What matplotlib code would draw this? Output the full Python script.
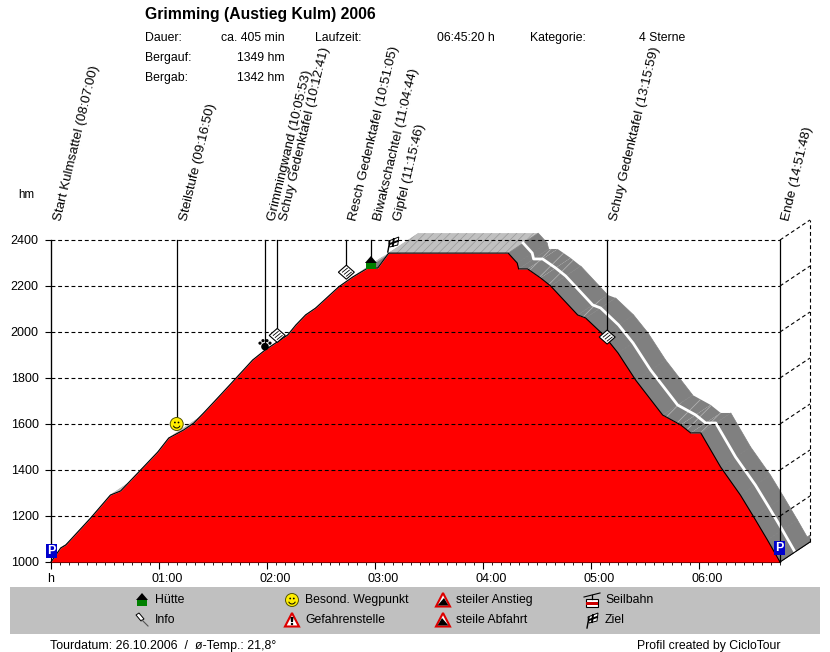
import matplotlib
matplotlib.use('Agg')
import matplotlib.pyplot as plt
from matplotlib.patches import Polygon, Circle, Rectangle, Wedge
from matplotlib.lines import Line2D
from matplotlib.transforms import IdentityTransform, ScaledTranslation

plt.rcParams['font.family'] = ['Liberation Sans', 'DejaVu Sans']
plt.rcParams['hatch.linewidth'] = 0.5

W, H = 830, 652

# profile: minutes since start / altitude in hm
minutes = [0, 5.4, 8.2, 22, 33, 38.7, 49.8, 59.3, 65.4, 73.7, 79.3, 84.8, 91.5, 99.8, 112, 119,
           131.5, 136, 141.4, 147, 159.8, 167.6, 176, 181.5, 187.6, 254, 259, 259.8, 264.8,
           272, 277.6, 292.6, 297, 307, 315, 324.8, 339.8, 349.8, 355.4, 361, 372, 383, 390.4,
           398, 405]
altitude = [1000, 1061, 1074, 1191, 1291, 1309, 1400, 1478, 1539, 1574, 1604, 1648, 1704, 1774,
            1878, 1922, 1987, 2030, 2074, 2104, 2196, 2239, 2278, 2278, 2343, 2343, 2300,
            2274, 2274, 2235, 2200, 2074, 2061, 1987, 1909, 1791, 1639, 1596, 1561, 1561,
            1413, 1291, 1196, 1096, 1000]

start_clock = '08:07:00'
wp_names = ['Start Kulmsattel', 'Steilstufe', 'Grimmingwand', 'Schuy Gedenktafel',
            'Resch Gedenktafel', 'Biwakschachtel', 'Gipfel', 'Schuy Gedenktafel', 'Ende']
wp_clock = ['08:07:00', '09:16:50', '10:05:53', '10:12:41', '10:51:05', '11:04:44',
            '11:15:46', '13:15:59', '14:51:48']
wp_alt = [1050, 1600, 1945, 1985, 2260, 2300, 2345, 1978, 1060]
wp_icon = ['park', 'smile', 'paw', 'info', 'info', 'hut', 'flag', 'info', 'park']

y_ticks = [1000, 1200, 1400, 1600, 1800, 2000, 2200, 2400]
x_hours = [1, 2, 3, 4, 5, 6]

info_left = [('Dauer:', 'ca. 405 min'), ('Bergauf:', '1349 hm'), ('Bergab:', '1342 hm')]
legend_items = [('hut', 'Hütte', 142, 600), ('pin', 'Info', 142, 620),
                ('smile', 'Besond. Wegpunkt', 292, 600), ('danger', 'Gefahrenstelle', 292, 620),
                ('up', 'steiler Anstieg', 443, 600), ('down', 'steile Abfahrt', 443, 620),
                ('cable', 'Seilbahn', 592, 600), ('flag', 'Ziel', 592, 620)]


def to_min(clock):
    a, b, c = clock.split(':')
    return int(a) * 60 + int(b) + int(c) / 60


fig = plt.figure(figsize=(W / 100, H / 100), dpi=100, facecolor='white')
ax = fig.add_axes([51 / W, (H - 562) / H, 729 / W, 322 / H])
ax.set_xlim(0, 405)
ax.set_ylim(1000, 2400)
ax.patch.set_visible(False)
for s in ['top', 'right']:
    ax.spines[s].set_visible(False)

# depth of the 3d band, 30 px right / 20 px up
dx = 30 / 1.8
dy = 20 / 0.23

for i in range(len(minutes) - 1):
    t0, t1 = minutes[i], minutes[i + 1]
    h0, h1 = altitude[i], altitude[i + 1]
    slope = (h1 - h0) / (t1 - t0)
    quad = [(t0, h0), (t1, h1), (t1 + dx, h1 + dy), (t0 + dx, h0 + dy)]
    if slope > 0.5:
        ax.add_patch(Polygon(quad, fc='#c0c0c0', ec='#c0c0c0', lw=0.5, clip_on=False, zorder=1))
    elif slope > -0.5 and t1 - t0 > 20:
        ax.add_patch(Polygon(quad, fc='#c0c0c0', ec='#999999', lw=0, hatch='////', clip_on=False, zorder=1))
    elif slope > -7:
        ax.add_patch(Polygon(quad, fc='#808080', ec='#b8b8b8', lw=0, hatch='//', clip_on=False, zorder=1))
    else:
        ax.add_patch(Polygon(quad, fc='#808080', ec='#808080', lw=0.5, clip_on=False, zorder=1))

# end wall of the band
ax.add_patch(Polygon([(405, 1000), (405 + dx, 1000 + dy), (405 + dx, 1030 + dy), (405, 1030)],
                     fc='#808080', ec='#808080', lw=0.5, clip_on=False, zorder=1))

# white track in the middle of the band, downhill part only
top_end = minutes.index(254)
ax.plot([m + dx / 2 for m in minutes[top_end:]], [a + dy / 2 for a in altitude[top_end:]],
        color='white', lw=2, clip_on=False, zorder=2)

ax.fill_between(minutes, altitude, 1000, color='#ff0000', lw=0, zorder=3)
ax.plot(minutes, altitude, color='black', lw=0.8, zorder=4, clip_on=False)

# grid and the dashed back wall
dash = (0, (3.5, 2.5))
for y in y_ticks[1:]:
    ax.plot([0, 405], [y, y], color='black', lw=0.8, ls=dash, zorder=5, clip_on=False)
for y in y_ticks[1:]:
    ax.plot([405, 405 + dx], [y, y + dy], color='black', lw=0.8, ls=dash, zorder=5, clip_on=False)
ax.plot([405 + dx, 405 + dx], [1000 + dy, 2400 + dy], color='black', lw=0.8, ls=dash, zorder=5, clip_on=False)
ax.plot([405, 405 + dx], [1000, 1000 + dy], color='black', lw=0.8, zorder=6, clip_on=False)

ax.set_yticks(y_ticks)
ax.tick_params(axis='y', length=4.3, width=0.8, pad=4.5, labelsize=9)
ax.set_xticks([0] + [h * 60 for h in x_hours])
ax.set_xticklabels(['h'] + ['%02d:00' % h for h in x_hours], fontsize=9)
ax.set_xticks(range(0, 406, 5), minor=True)
ax.tick_params(axis='x', which='major', length=5, width=0.8, pad=3)
ax.tick_params(axis='x', which='minor', length=2, width=0.6)
shift = ScaledTranslation(8 / 100, 0, fig.dpi_scale_trans)
for lab in ax.get_xticklabels()[1:]:
    lab.set_transform(lab.get_transform() + shift)


def dpoly(points, fc, ec='none', lw=0.0, z=20):
    fig.add_artist(Polygon(points, closed=True, fc=fc, ec=ec, lw=lw, transform=IdentityTransform(), zorder=z))


def dcirc(x, y, r, fc, ec='none', lw=0.0, z=20):
    fig.add_artist(Circle((x, y), r, fc=fc, ec=ec, lw=lw, transform=IdentityTransform(), zorder=z))


def dline(xs, ys, lw=0.8, color='black', z=21):
    fig.add_artist(Line2D(xs, ys, color=color, lw=lw, transform=IdentityTransform(), zorder=z))


def draw_icon(kind, x, y):
    # x, y are pixels with y going up, icon centred on them
    if kind == 'hut':
        dpoly([(x - 6, y), (x, y + 7), (x + 6, y)], 'black')
        fig.add_artist(Rectangle((x - 5, y - 6), 10, 6, fc='#008000', transform=IdentityTransform(), zorder=20))
    elif kind == 'smile':
        dcirc(x, y, 6.5, '#ffee00', '#555500', 0.7)
        dcirc(x - 1.8, y + 1.5, 0.9, 'black')
        dcirc(x + 1.8, y + 1.5, 0.9, 'black')
        fig.add_artist(Wedge((x, y - 0.5), 4, 200, 340, width=1, fc='black', transform=IdentityTransform(), zorder=21))
    elif kind == 'paw':
        dcirc(x, y - 2, 3.8, 'black')
        for ox, oy in [(-5, 1.5), (-2, 4), (2, 4), (5, 1.5)]:
            dcirc(x + ox, y + oy, 1.6, 'black')
    elif kind == 'info':
        dpoly([(x - 8, y), (x, y + 7), (x + 8, y), (x, y - 7)], 'white', 'black', 0.8)
        dline([x - 4, x + 1], [y, y + 4], 0.6)
        dline([x - 2, x + 3], [y - 2, y + 2], 0.6)
        dline([x, x + 5], [y - 4, y], 0.6)
    elif kind == 'pin':
        dpoly([(x - 6, y + 5), (x - 3, y + 7), (x + 2, y + 1), (x - 1, y - 1)], 'white', 'black', 0.7)
        dline([x, x + 6], [y, y - 6], 0.8, '#555555')
    elif kind == 'flag':
        dline([x - 5, x - 3], [y - 8, y + 3], 1.0)
        dpoly([(x - 4, y + 3), (x + 6, y + 7), (x + 5, y - 1), (x - 3, y - 3)], 'white', 'black', 0.7)
        dline([x - 3, x + 5], [y, y + 3], 1.4)
        dline([x, x + 1], [y - 2, y + 5], 1.4)
    elif kind == 'park':
        fig.add_artist(Rectangle((x - 5.5, y - 7), 11, 14, fc='#0000cc', transform=IdentityTransform(), zorder=20))
        fig.text(x, y, 'P', color='white', fontsize=9, fontweight='bold', ha='center', va='center',
                 transform=IdentityTransform(), zorder=22)
    elif kind in ('danger', 'up', 'down'):
        dpoly([(x - 7, y - 6.5), (x, y + 7), (x + 7, y - 6.5)], 'white', '#dd0000', 1.5)
        if kind == 'danger':
            dpoly([(x - 1.5, y + 3), (x + 1.5, y + 3), (x + 1, y - 2), (x - 1, y - 2)], 'black')
            dcirc(x, y - 4, 1.2, 'black')
        elif kind == 'up':
            dpoly([(x - 5.5, y - 5.5), (x + 1, y + 2), (x + 5.5, y - 5.5)], 'black')
        else:
            dpoly([(x - 1, y + 2), (x - 5.5, y - 5.5), (x + 5.5, y - 5.5)], 'black')
    elif kind == 'cable':
        dline([x - 8, x + 8], [y + 3, y + 7], 0.8)
        dline([x, x], [y + 5, y + 1], 0.9)
        fig.add_artist(Rectangle((x - 6, y - 7), 12, 8, fc='white', ec='black', lw=0.8,
                                 transform=IdentityTransform(), zorder=20))
        fig.add_artist(Rectangle((x - 6, y - 5), 12, 3.5, fc='#cc0000', transform=IdentityTransform(), zorder=21))


fig.canvas.draw()

# waypoints: line from the top of the chart down to the icon, label above
start = to_min(start_clock)
for name, clock, alt, icon in zip(wp_names, wp_clock, wp_alt, wp_icon):
    t = to_min(clock) - start
    px, py = ax.transData.transform((t, alt))
    top = ax.transData.transform((t, 2400))[1]
    if name == 'Ende':
        dline([px, px], [H - 562, top], 0.9, z=7)
    elif name != 'Gipfel':
        dline([px, px], [py, top], 0.9, z=7)
    # the labels start at the same height just over the chart
    fig.text((px + 7) / W, (H - 221) / H, '%s (%s)' % (name, clock), rotation=76.5,
             rotation_mode='anchor', ha='left', va='center', fontsize=9.6)
    if icon == 'flag':
        draw_icon(icon, px + 2, H - 244)
    else:
        draw_icon(icon, px, py)


def put(x, y, s, **kw):
    # pixel position from the top left corner
    fig.text(x / W, (H - y) / H, s, va='center', **kw)


put(145, 14, 'Grimming (Austieg Kulm) 2006', fontsize=11.3, fontweight='bold')
for i, (a, b) in enumerate(info_left):
    put(145, 38 + i * 20, a, fontsize=8.8)
    put(285, 38 + i * 20, b, fontsize=8.8, ha='right')
put(315, 38, 'Laufzeit:', fontsize=8.8)
put(495, 38, '06:45:20 h', fontsize=8.8, ha='right')
put(530, 38, 'Kategorie:', fontsize=8.8)
put(685, 38, '4 Sterne', fontsize=8.8, ha='right')
put(18, 195, 'hm', fontsize=8.4)

# legend strip
fig.add_artist(Rectangle((10, H - 634), 810, 47, fc='#c0c0c0', ec='none',
                         transform=IdentityTransform(), zorder=1))
for kind, label, lx, ly in legend_items:
    draw_icon(kind, lx, H - ly)
    put(lx + 13, ly, label, fontsize=8.8, zorder=22)

put(50, 646, 'Tourdatum: 26.10.2006  /  ø-Temp.: 21,8°', fontsize=8.9)
put(637, 646, 'Profil created by CicloTour', fontsize=8.85)

fig.savefig('out.png', dpi=100)
